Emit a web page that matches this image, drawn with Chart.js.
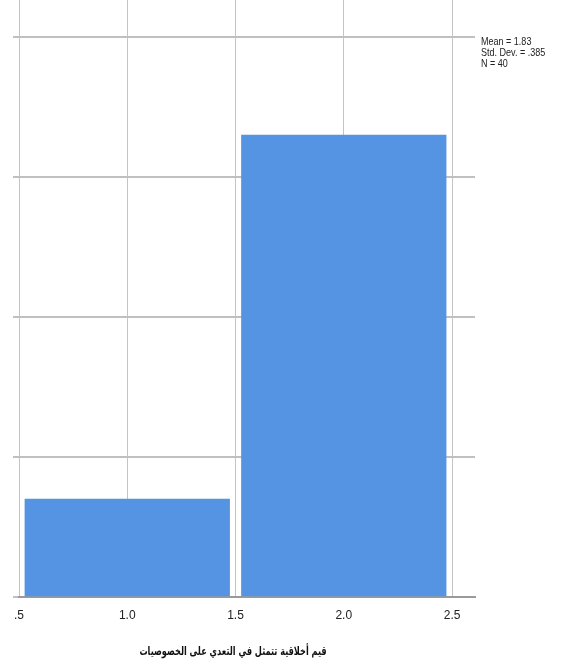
<!DOCTYPE html>
<html>
<head>
<meta charset="utf-8">
<script src="https://cdn.jsdelivr.net/npm/chart.js@4.4.1/dist/chart.umd.min.js"></script>
<style>
  html, body { margin: 0; padding: 0; background: #fff; }
  #wrap { position: relative; width: 563px; height: 669px; overflow: hidden; }
  #chart { position: absolute; left: 0; top: 0; }
  .stats {
    position: absolute; left: 481px; top: 36px;
    font-family: "Liberation Sans", sans-serif;
    font-size: 11px; line-height: 11px; color: #222;
    transform: scaleX(0.82); transform-origin: left top; white-space: nowrap;
  }
  .xtitle {
    position: absolute; left: 0; width: 466px; top: 644px; text-align: center;
    font-family: "DejaVu Sans", sans-serif; font-weight: bold;
    font-size: 12px; color: #111; direction: rtl;
    transform: scaleX(0.68); transform-origin: 233px 0;
  }
</style>
</head>
<body>
<div id="wrap">
  <canvas id="chart" width="563" height="669"></canvas>
  <div class="stats">Mean = 1.83<br>Std. Dev. = .385<br>N = 40</div>
  <div class="xtitle">قيم أخلاقية تتمثل في التعدي على الخصوصيات</div>
</div>
<script>
// histogram bins (midpoints) and frequencies
const binCenters = [1, 2];
const frequencies = [7, 33];
const xTicks = [0.5, 1.0, 1.5, 2.0, 2.5];
const xTickLabels = ['.5', '1.0', '1.5', '2.0', '2.5'];
const yTicks = [0, 10, 20, 30, 40];

const ctx = document.getElementById('chart').getContext('2d');

new Chart(ctx, {
  type: 'bar',
  data: {
    datasets: [{
      data: binCenters.map((x, i) => ({ x: x, y: frequencies[i] })),
      backgroundColor: '#5594e2',
      borderWidth: 0,
      barThickness: 'flex',
      categoryPercentage: 1.0,
      barPercentage: 0.945,
    }],
  },
  options: {
    responsive: false,
    animation: false,
    layout: { padding: { left: 13, right: 88, top: 0, bottom: 0 } },
    plugins: {
      legend: { display: false },
      tooltip: { enabled: false },
    },
    scales: {
      x: {
        type: 'linear',
        offset: false,
        min: 0.5,
        max: 2.606,
        afterBuildTicks: (scale) => {
          scale.ticks = xTicks.map(v => ({ value: v }));
        },
        afterFit: (scale) => { scale.height = 72; },
        grid: {
          offset: false,
          color: '#c4c4c4',
          lineWidth: 1,
          drawTicks: false,
        },
        border: { display: true, color: '#9a9a9a', width: 2 },
        ticks: {
          padding: 11,
          maxRotation: 0,
          autoSkip: false,
          color: '#222',
          font: { family: '"Liberation Sans", sans-serif', size: 12 },
          callback: (v) => xTickLabels[xTicks.indexOf(v)] ?? '',
        },
      },
      y: {
        min: 0,
        max: 42.64,
        afterBuildTicks: (scale) => {
          scale.ticks = yTicks.map(v => ({ value: v }));
        },
        afterFit: (scale) => { scale.width = 6; },
        grid: {
          color: '#c0c0c0',
          lineWidth: 2,
          tickLength: 6,
        },
        border: { display: false },
        ticks: { display: false },
      },
    },
  },
});
</script>
</body>
</html>
